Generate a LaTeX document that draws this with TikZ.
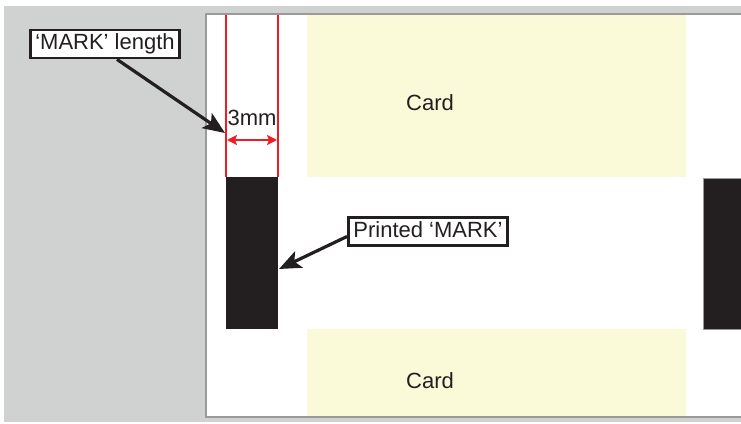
\documentclass[tikz,border=0pt]{standalone}
\usepackage{fontspec}
\setmainfont{Liberation Sans}
\usetikzlibrary{arrows.meta,calc}
\definecolor{bggrey}{HTML}{D0D1D1}
\definecolor{panelgrey}{HTML}{9A9A9A}
\definecolor{cardyellow}{HTML}{FAFAD9}
\definecolor{markblack}{HTML}{231F20}
\definecolor{dimred}{HTML}{EE1C24}
\tikzset{
  txt/.style={font=\fontsize{22}{24}\selectfont, text=markblack, inner sep=0pt},
  labelbox/.style={draw=markblack, fill=white, line width=2.8pt, font=\fontsize{22}{24}\selectfont, text=markblack, inner xsep=5pt, inner ysep=3.5pt, text height=16pt, text depth=5pt},
  bigarrow/.style={draw=markblack, line width=3.2pt, -{Stealth[length=22pt,width=18pt,inset=5pt]}},
  redline/.style={draw=dimred, line width=2.4pt},
  dimarrow/.style={draw=dimred, line width=2.4pt, {Stealth[length=10pt,width=10pt,inset=2pt]}-{Stealth[length=10pt,width=10pt,inset=2pt]}}
}
\begin{document}
\begin{tikzpicture}[x=1pt,y=-1pt]
\useasboundingbox (0,0) rectangle (741,423);
% background
\fill[bggrey] (4,6) rectangle (741,422);
\draw[fill=white, draw=panelgrey, line width=1.2pt] (206,14) rectangle (750,417);
% cards
\fill[cardyellow] (307,14.6) rectangle (686,177);
\fill[cardyellow] (307,329) rectangle (686,416.4);
\node[txt] (card1) at (430,103) {Card};
\node[txt] (card2) at (430,381) {Card};
% marks
\fill[markblack] (226,177) rectangle (278,329);
\draw[fill=markblack, draw=panelgrey, line width=0.8pt] (703,178) rectangle (750,329);
% red guides
\draw[redline] (226,14.6) -- (226,177);
\draw[redline] (278,14.6) -- (278,177);
\coordinate (dimL) at (227,140);
\coordinate (dimR) at (277,140);
\draw[dimarrow] (dimL) -- (dimR);
\node[txt] (dim) at (252,118) {3mm};
% labels
\node[labelbox] (marklen) at (105,44) {‘MARK’ length};
\coordinate (tip1) at (225,133);
\draw[bigarrow] ($(marklen.south)+(12,0)$) -- (tip1);
\node[labelbox] (printed) at (428,231.5) {Printed ‘MARK’};
\coordinate (tip2) at (279,269);
\draw[bigarrow] ($(printed.west)+(0,5)$) -- (tip2);
\end{tikzpicture}
\end{document}
